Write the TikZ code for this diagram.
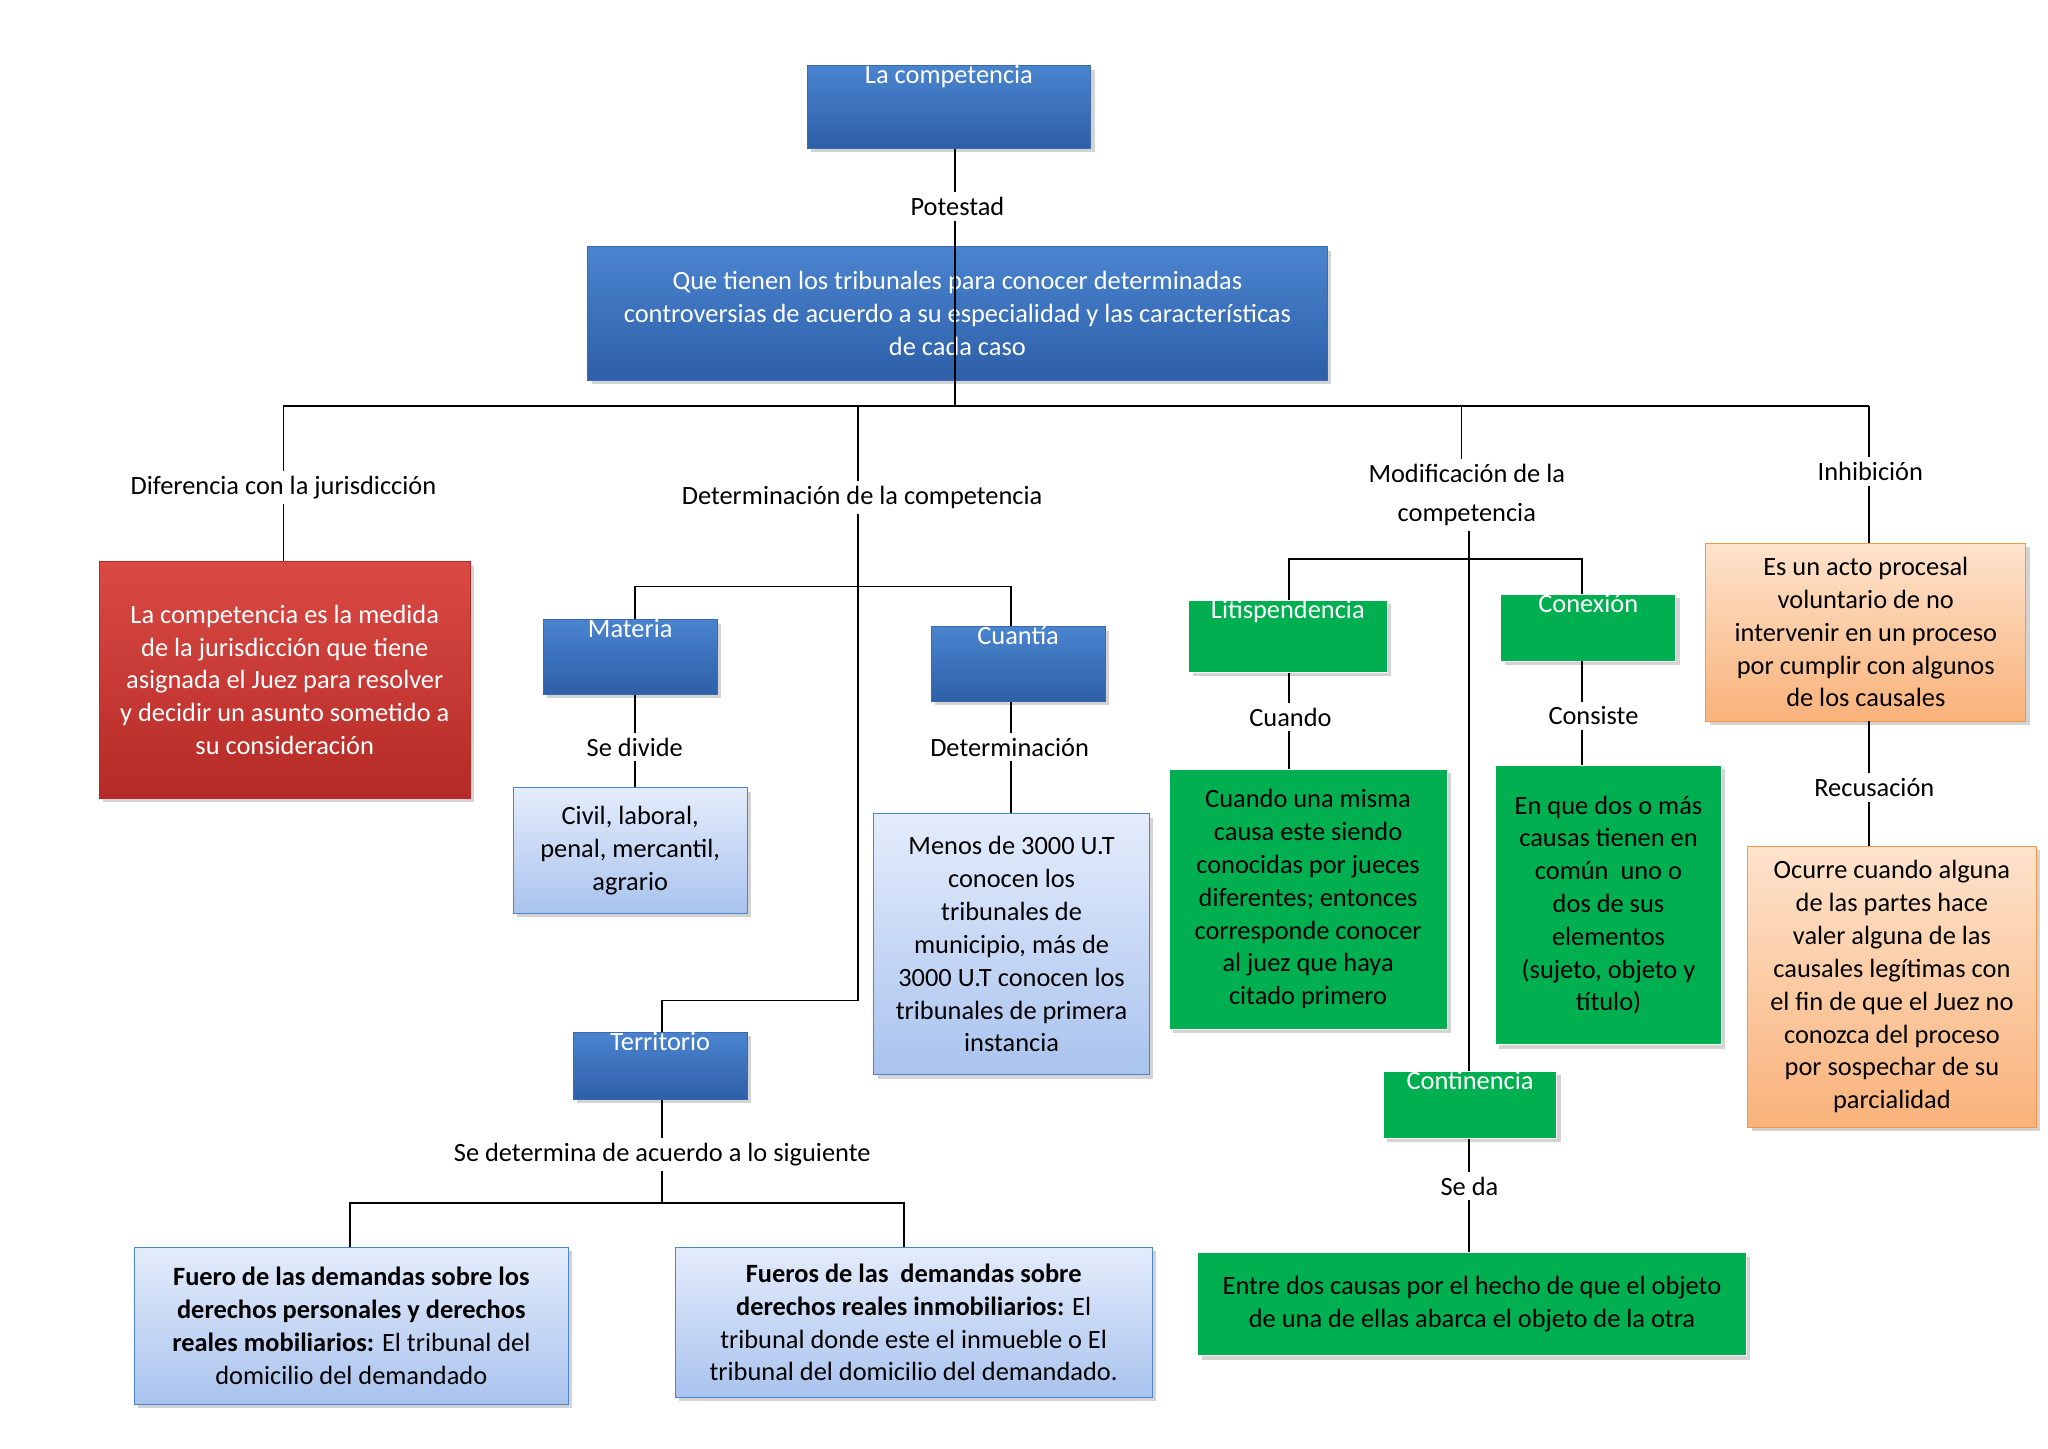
\documentclass[tikz,border=0pt]{standalone}
\usepackage{fontspec}
\setmainfont{Carlito}
\usetikzlibrary{shadows}
\definecolor{bdark}{HTML}{2E5FA8}
\definecolor{blite}{HTML}{4A84CF}
\definecolor{bord}{HTML}{3A6AAE}
\definecolor{lbtop}{HTML}{E4ECFB}
\definecolor{lbbot}{HTML}{A9C3EE}
\definecolor{gr}{HTML}{00B050}
\definecolor{rtop}{HTML}{DA4A44}
\definecolor{rbot}{HTML}{B52A26}
\definecolor{otop}{HTML}{FDE3CC}
\definecolor{obot}{HTML}{F9B27A}
\definecolor{obord}{HTML}{F79646}
\newcommand\bx[7]{\node[#6, minimum width={(#4-#2)*0.02cm}, minimum height={(#5-#3)*0.02cm}] (#1) at ({(#2+#4)/2},{(#3+#5)/2}) {#7};}
\tikzset{
  base/.style={inner sep=0pt, align=center, font=\fontsize{11.5}{14.3}\selectfont, drop shadow={opacity=0.35,shadow xshift=0.06cm,shadow yshift=-0.06cm}},
  dblue/.style={base, draw=bord, top color=blite, bottom color=bdark, text=white},
  lblue/.style={base, draw=blite, top color=lbtop, bottom color=lbbot, text=black},
  green/.style={base, draw=white, fill=gr, text=black},
  gbox/.style={base, draw=white, fill=gr, text=white},
  red/.style={base, draw=rbot, top color=rtop, bottom color=rbot, text=white},
  orange/.style={base, draw=obord, top color=otop, bottom color=obot, text=black},
  lab/.style={inner sep=2pt, align=center, font=\fontsize{11.5}{14.3}\selectfont},
  ln/.style={draw=black, line width=0.8pt}
}
\begin{document}
\begin{tikzpicture}[x=0.02cm,y=-0.02cm]
\useasboundingbox (0,0) rectangle (1568,1109);
\bx{tc}{618}{55}{835}{109}{dblue}{La competencia\\[1.2em]}
\node[lab] (pot) at (733,158) {Potestad};
\bx{q}{450}{189}{1016}{291}{dblue}{Que tienen los tribunales para conocer determinadas\\controversias de acuerdo a su especialidad y las características\\de cada caso}
\node[lab] (dif) at (217,373) {Diferencia con la jurisdicción};
\node[lab] (det) at (660,381) {Determinación de la competencia};
\node[lab] (mod) at (1123,379) {Modificación de la\\[0.25em]competencia};
\node[lab] (inh) at (1432,361) {Inhibición};
\bx{red}{76}{430}{360}{611}{red}{La competencia es la medida\\de la jurisdicción que tiene\\asignada el Juez para resolver\\y decidir un asunto sometido a\\su consideración}
\bx{mat}{416}{476}{549}{530}{dblue}{Materia\\[0.9em]}
\bx{cua}{713}{481}{846}{536}{dblue}{Cuantía\\[0.9em]}
\node[lab] (sed) at (486,572) {Se divide};
\node[lab] (dtm) at (773,572) {Determinación};
\bx{civ}{393}{603}{572}{699}{lblue}{Civil, laboral,\\penal, mercantil,\\agrario}
\bx{men}{669}{623}{880}{823}{lblue}{Menos de 3000 U.T\\conocen los\\tribunales de\\municipio, más de\\3000 U.T conocen los\\tribunales de primera\\instancia}
\bx{ter}{439}{791}{572}{841}{dblue}{Territorio\\[0.6em]}
\node[lab] (sda) at (507,884) {Se determina de acuerdo a lo siguiente};
\bx{f1}{103}{955}{435}{1075}{lblue}{\textbf{Fuero de las demandas sobre los}\\\textbf{derechos personales y derechos}\\\textbf{reales mobiliarios:} El tribunal del\\domicilio del demandado}
\bx{f2}{517}{955}{882}{1070}{lblue}{\textbf{Fueros de las\ \ demandas sobre}\\\textbf{derechos reales inmobiliarios:} El\\tribunal donde este el inmueble o El\\tribunal del domicilio del demandado.}
\bx{lit}{910}{460}{1062}{514}{gbox}{Litispendencia\\[0.8em]}
\bx{con}{1149}{457}{1283}{504}{gbox}{Conexión\\[0.6em]}
\node[lab] (cdo) at (988,549) {Cuando};
\node[lab] (cns) at (1220,548) {Consiste};
\bx{g1}{895}{589}{1108}{788}{green}{Cuando una misma\\causa este siendo\\conocidas por jueces\\diferentes; entonces\\corresponde conocer\\al juez que haya\\citado primero}
\bx{g2}{1145}{586}{1318}{800}{green}{En que dos o más\\causas tienen en\\común\ \ uno o\\dos de sus\\elementos\\(sujeto, objeto y\\título)}
\bx{cont}{1059}{821}{1192}{871}{gbox}{Continencia\\[0.6em]}
\node[lab] (seda) at (1125,908) {Se da};
\bx{g3}{917}{959}{1337}{1038}{green}{Entre dos causas por el hecho de que el objeto\\de una de ellas abarca el objeto de la otra}
\bx{o1}{1306}{416}{1551}{552}{orange}{Es un acto procesal\\voluntario de no\\intervenir en un proceso\\por cumplir con algunos\\de los causales}
\node[lab] (rec) at (1435,603) {Recusación};
\bx{o2}{1338}{648}{1559}{863}{orange}{Ocurre cuando alguna\\de las partes hace\\valer alguna de las\\causales legítimas con\\el fin de que el Juez no\\conozca del proceso\\por sospechar de su\\parcialidad}
% connectors
\coordinate (bar) at (731,311);
\draw[ln] (tc.south -| 731,0) -- (pot.north -| 731,0);
\draw[ln] (pot.south -| 731,0) -- (q.south -| 731,0) -- (bar);
\draw[ln] (217,311) -- (1431,311);
\draw[ln] (217,311) -- (dif.north -| 217,0);
\draw[ln] (dif.south -| 217,0) -- (red.north -| 217,0);
\draw[ln] (657,311) -- (det.north -| 657,0);
\coordinate (t1) at (657,766);
\coordinate (mc) at (657,449);
\draw[ln] (det.south -| 657,0) -- (t1) -| (ter.north -| 507,0);
\draw[ln] (mat.north -| 486,0) |- (mc) -| (cua.north -| 774,0);
\draw[ln] (mat.south -| 486,0) -- (sed.north -| 486,0);
\draw[ln] (sed.south -| 486,0) -- (civ.north -| 486,0);
\draw[ln] (cua.south -| 774,0) -- (dtm.north -| 774,0);
\draw[ln] (dtm.south -| 774,0) -- (men.north -| 774,0);
\draw[ln] (ter.south -| 507,0) -- (sda.north -| 507,0);
\coordinate (fc) at (507,921);
\draw[ln] (sda.south -| 507,0) -- (fc);
\draw[ln] (f1.north -| 268,0) |- (fc) -| (f2.north -| 692,0);
\draw[ln] (1119,311) -- (mod.north -| 1119,0);
\coordinate (mb) at (1125,428);
\draw[ln] (mod.south -| 1125,0) -- (cont.north -| 1125,0);
\draw[ln] (lit.north -| 987,0) |- (mb) -| (con.north -| 1211,0);
\draw[ln] (lit.south -| 987,0) -- (cdo.north -| 987,0);
\draw[ln] (cdo.south -| 987,0) -- (g1.north -| 987,0);
\draw[ln] (con.south -| 1211,0) -- (cns.north -| 1211,0);
\draw[ln] (cns.south -| 1211,0) -- (g2.north -| 1211,0);
\draw[ln] (cont.south -| 1125,0) -- (seda.north -| 1125,0);
\draw[ln] (seda.south -| 1125,0) -- (g3.north -| 1125,0);
\draw[ln] (1431,311) -- (inh.north -| 1431,0);
\draw[ln] (inh.south -| 1431,0) -- (o1.north -| 1431,0);
\draw[ln] (o1.south -| 1431,0) -- (rec.north -| 1431,0);
\draw[ln] (rec.south -| 1431,0) -- (o2.north -| 1431,0);
\end{tikzpicture}
\end{document}
